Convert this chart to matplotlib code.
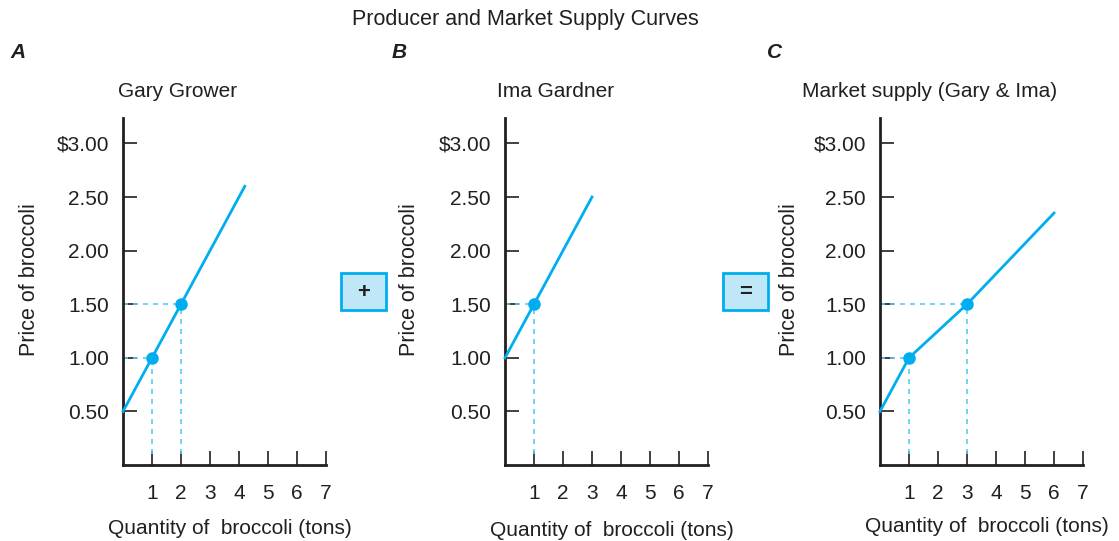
import numpy as np
import matplotlib.pyplot as plt
from matplotlib.patches import FancyBboxPatch

plt.rcParams['font.family'] = ['Liberation Sans', 'DejaVu Sans']

# data
qty_ticks = [1, 2, 3, 4, 5, 6, 7]
price_ticks = [0.5, 1.0, 1.5, 2.0, 2.5, 3.0]
price_labels = ["0.50", "1.00", "1.50", "2.00", "2.50", "$3.00"]

gary_q = [0, 4.2]
gary_p = [0.5, 2.6]
gary_pts_q = [1, 2]
gary_pts_p = [1.0, 1.5]

ima_q = [0, 3]
ima_p = [1.0, 2.5]
ima_pts_q = [1]
ima_pts_p = [1.5]

mkt_q = [0, 1, 3, 6]
mkt_p = [0.5, 1.0, 1.5, 2.35]
mkt_pts_q = [1, 3]
mkt_pts_p = [1.0, 1.5]

# letter, subtitle, curve, points, axis left px, subtitle centre px, xlabel y px, ylabel right px
panels = [
    ("A", "Gary Grower", gary_q, gary_p, gary_pts_q, gary_pts_p, 123, 178, 528, 40),
    ("B", "Ima Gardner", ima_q, ima_p, ima_pts_q, ima_pts_p, 505, 556, 531, 420),
    ("C", "Market supply (Gary & Ima)", mkt_q, mkt_p, mkt_pts_q, mkt_pts_p, 880, 930, 526, 800),
]

W, H = 1119, 541
LINE = "#00aeef"
DASH = "#5ccbf2"
INK = "#231f20"
FS = 15

fig = plt.figure(figsize=(W / 100, H / 100), dpi=100)
fig.text(525 / W, 1 - 19 / H, "Producer and Market Supply Curves",
         ha="center", va="center", fontsize=15.5, color=INK)

for letter, name, q, p, pq, pp, x0, xc, xl_y, yl_x in panels:
    ax = fig.add_axes([x0 / W, 1 - 465 / H, 203 / W, 347 / H])
    ax.set_xlim(0, 7)
    ax.set_ylim(0, 3.237)
    for s in ["top", "right"]:
        ax.spines[s].set_visible(False)
    for s in ["left", "bottom"]:
        ax.spines[s].set_linewidth(2)
        ax.spines[s].set_color(INK)
        ax.spines[s].set_capstyle("projecting")
    ax.set_xticks(qty_ticks)
    ax.set_yticks(price_ticks)
    ax.set_yticklabels(price_labels)
    ax.tick_params(direction="in", length=10, width=1.2, color=INK,
                   labelsize=FS, labelcolor=INK)
    ax.tick_params(axis="x", pad=14)
    ax.tick_params(axis="y", pad=10)

    # guide lines
    for a, b in zip(pq, pp):
        ax.plot([a, a], [0.1, b], ls=(0, (3, 3)), color=DASH, lw=1.2, zorder=2)
        ax.plot([0, a], [b, b], ls=(0, (3, 3)), color=DASH, lw=1.2, zorder=2)

    ax.plot(q, p, color=LINE, lw=2, zorder=3, clip_on=False)
    ax.plot(pq, pp, "o", color=LINE, ms=8, zorder=4)

    ax.set_ylabel("Price of broccoli", fontsize=15.5, color=INK)
    ax.yaxis.set_label_coords((yl_x - x0) / 203, (465 - 280) / 347)
    fig.text((x0 + 107) / W, 1 - xl_y / H, "Quantity of  broccoli (tons)",
             ha="center", va="center", fontsize=FS, color=INK)
    fig.text(xc / W, 1 - 92 / H, name, ha="center", va="center",
             fontsize=FS, color=INK)
    fig.text((x0 - 113) / W, 1 - 53 / H, letter, ha="left", va="center",
             fontsize=FS, fontweight="bold", fontstyle="italic", color=INK)

# operator boxes between panels
for bx, sym in [(341, "+"), (723, "=")]:
    box = FancyBboxPatch((bx / W, 1 - 310 / H), 45 / W, 37 / H,
                         boxstyle="square,pad=0", transform=fig.transFigure,
                         facecolor="#bfe7f8", edgecolor=LINE, lw=2)
    fig.patches.append(box)
    fig.text((bx + 22.5) / W, 1 - 292 / H, sym, ha="center", va="center",
             fontsize=16, fontweight="bold", color=INK)

fig.savefig("out.png", dpi=100)
